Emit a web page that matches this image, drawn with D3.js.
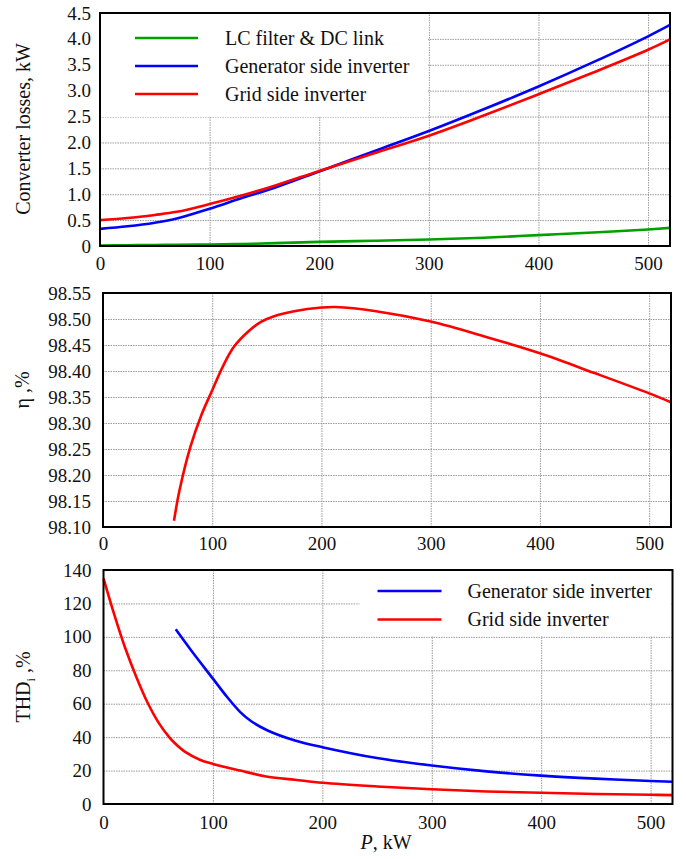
<!DOCTYPE html>
<html><head><meta charset="utf-8">
<script src="https://cdn.jsdelivr.net/npm/d3@7"></script>
<style>
body{margin:0;background:#fff;}
svg text{font-family:"Liberation Serif","Times New Roman",serif;fill:#111;}
</style></head>
<body>
<svg id="c" width="686" height="859" style="font-family:'Liberation Serif',serif"></svg>
<script>
// ---- Data ----
const lossP = [0,25,50,70,100,130,160,200,250,300,350,400,450,500,520];
const lossLC = [0.01,0.015,0.02,0.025,0.03,0.04,0.055,0.08,0.10,0.125,0.16,0.21,0.26,0.32,0.35];
const lossGen = [0.33,0.38,0.45,0.53,0.72,0.93,1.13,1.44,1.83,2.22,2.64,3.08,3.55,4.05,4.27];
const lossGrid = [0.50,0.54,0.60,0.66,0.81,0.98,1.17,1.45,1.79,2.13,2.52,2.93,3.35,3.79,3.99];

const etaP = [65,70,80,90,100,110,120,133,145,156,175,200,213,250,300,350,400,450,500,520];
const etaV = [98.112,98.17,98.254,98.315,98.363,98.41,98.447,98.476,98.495,98.505,98.515,98.522,98.523,98.515,98.495,98.466,98.434,98.396,98.357,98.340];

const thdGenP = [66,80,100,113,125,135,150,175,200,250,300,350,400,450,500,520];
const thdGen = [104.5,92,75,64,55,49.5,44,38,34,27.5,23,19.5,17,15.2,13.8,13.3];
const thdGridP = [0,10,20,30,40,50,60,65,75,88,100,125,150,175,200,250,300,350,400,450,500,520];
const thdGrid = [135,113,93,76,61,49,40,36.5,31,26.5,24,20,16.3,14.5,12.7,10.5,8.8,7.5,6.7,6,5.5,5.3];

const xTicks = [0,100,200,300,400,500];
const lossTicks = [0,0.5,1.0,1.5,2.0,2.5,3.0,3.5,4.0,4.5];
const etaTicks = [98.10,98.15,98.20,98.25,98.30,98.35,98.40,98.45,98.50,98.55];
const thdTicks = [0,20,40,60,80,100,120,140];

const legendTop = ["LC filter & DC link","Generator side inverter","Grid side inverter"];
const legendBottom = ["Generator side inverter","Grid side inverter"];
const colLC = "#00a000", colGen = "#0000ff", colGrid = "#ff0000";

const FONT = "'Liberation Serif','Times New Roman',serif";
const svg = d3.select("#c");

function styleText(sel, fs){ sel.style("font-family",FONT).style("font-size",(fs||20)+"px").style("fill","#111"); }

function panel(o){
  const g = svg.append("g").attr("transform",`translate(${o.left},${o.top})`);
  const w = o.w, h = o.h;
  const x = d3.scaleLinear().domain([0,520]).range([0,w]);
  const y = d3.scaleLinear().domain(o.yDomain).range([h,0]);
  const grid = g.append("g");
  grid.append("g").attr("transform",`translate(0,${h})`)
    .call(d3.axisBottom(x).tickValues(xTicks.filter(t=>t>0)).tickSize(-h).tickFormat(""))
    .call(s=>{s.select(".domain").remove();});
  grid.append("g")
    .call(d3.axisLeft(y).tickValues(o.yTicks.filter(t=>t>o.yDomain[0] && t<o.yDomain[1])).tickSize(-w).tickFormat(""))
    .call(s=>{s.select(".domain").remove();});
  grid.selectAll("line").attr("stroke","#9a9a9a").attr("stroke-width",1).attr("stroke-dasharray","1.5,1");
  if(o.legBox){
    g.append("rect").attr("x",o.legBox[0]).attr("y",o.legBox[1]).attr("width",o.legBox[2]).attr("height",o.legBox[3]).attr("fill","#fff");
  }
  const line = d3.line().curve(d3.curveCatmullRom.alpha(0.5));
  o.series.forEach(s=>{
    g.append("path").attr("d", line(s.px.map((p,i)=>[x(p), y(s.v[i])])))
      .attr("fill","none").attr("stroke",s.c).attr("stroke-width",2.6);
  });
  g.append("g").attr("transform",`translate(0,${h})`)
    .call(d3.axisBottom(x).tickValues(xTicks).tickSize(0).tickPadding(o.xPad).tickFormat(d3.format("d")))
    .call(s=>{s.select(".domain").remove(); s.attr("font-family",null).attr("font-size",null); styleText(s.selectAll("text"),19);});
  g.append("g")
    .call(d3.axisLeft(y).tickValues(o.yTicks).tickSize(0).tickPadding(o.yPad).tickFormat(o.fmt))
    .call(s=>{s.select(".domain").remove(); s.attr("font-family",null).attr("font-size",null); styleText(s.selectAll("text"),19);});
  g.append("rect").attr("width",w).attr("height",h).attr("fill","none").attr("stroke","#000").attr("stroke-width",2);
  if(o.legend){
    o.legend.forEach((L,i)=>{
      const yy = o.legY0 + i*o.legDy;
      g.append("line").attr("x1",o.legX1).attr("x2",o.legX2).attr("y1",yy).attr("y2",yy).attr("stroke",L.c).attr("stroke-width",2.6);
      g.append("text").attr("x",o.legTx).attr("y",yy).attr("dy","0.33em").call(styleText,20).text(L.t);
    });
  }
  return {g,x,y};
}

panel({left:100, top:13, w:570, h:233, yDomain:[0,4.5], yTicks:lossTicks,
  fmt:d=> d===0 ? "0" : d3.format(".1f")(d), xPad:10.5, yPad:9,
  legBox:[1,1,327,103],
  series:[{px:lossP,v:lossLC,c:colLC},{px:lossP,v:lossGen,c:colGen},{px:lossP,v:lossGrid,c:colGrid}],
  legend:[{t:legendTop[0],c:colLC},{t:legendTop[1],c:colGen},{t:legendTop[2],c:colGrid}],
  legY0:25, legDy:28, legX1:35, legX2:98, legTx:125});

panel({left:103, top:293, w:568, h:234, yDomain:[98.10,98.55], yTicks:etaTicks,
  fmt:d3.format(".2f"), xPad:9.5, yPad:12,
  series:[{px:etaP,v:etaV,c:colGrid}]});

panel({left:103.5, top:570, w:569, h:234, yDomain:[0,140], yTicks:thdTicks,
  fmt:d3.format("d"), xPad:11.5, yPad:12,
  legBox:[256,1,312,65],
  series:[{px:thdGenP,v:thdGen,c:colGen},{px:thdGridP,v:thdGrid,c:colGrid}],
  legend:[{t:legendBottom[0],c:colGen},{t:legendBottom[1],c:colGrid}],
  legY0:21, legDy:28.5, legX1:274, legX2:338, legTx:364});

svg.append("text").attr("transform","translate(30,129) rotate(-90)").attr("text-anchor","middle").call(styleText,20).text("Converter losses, kW");
svg.append("text").attr("transform","translate(29,390) rotate(-90)").attr("text-anchor","middle").call(styleText,20).text("η ,%");
const th = svg.append("text").attr("transform","translate(30,687) rotate(-90)").attr("text-anchor","middle").call(styleText,20);
th.append("tspan").text("THD");
th.append("tspan").style("font-size","12px").attr("dy",5).text("i");
th.append("tspan").attr("dy",-5).text(" ,%");
const px = svg.append("text").attr("x",386).attr("y",849).attr("text-anchor","middle").call(styleText,20);
px.append("tspan").style("font-style","italic").text("P");
px.append("tspan").text(", kW");
</script>
</body></html>
